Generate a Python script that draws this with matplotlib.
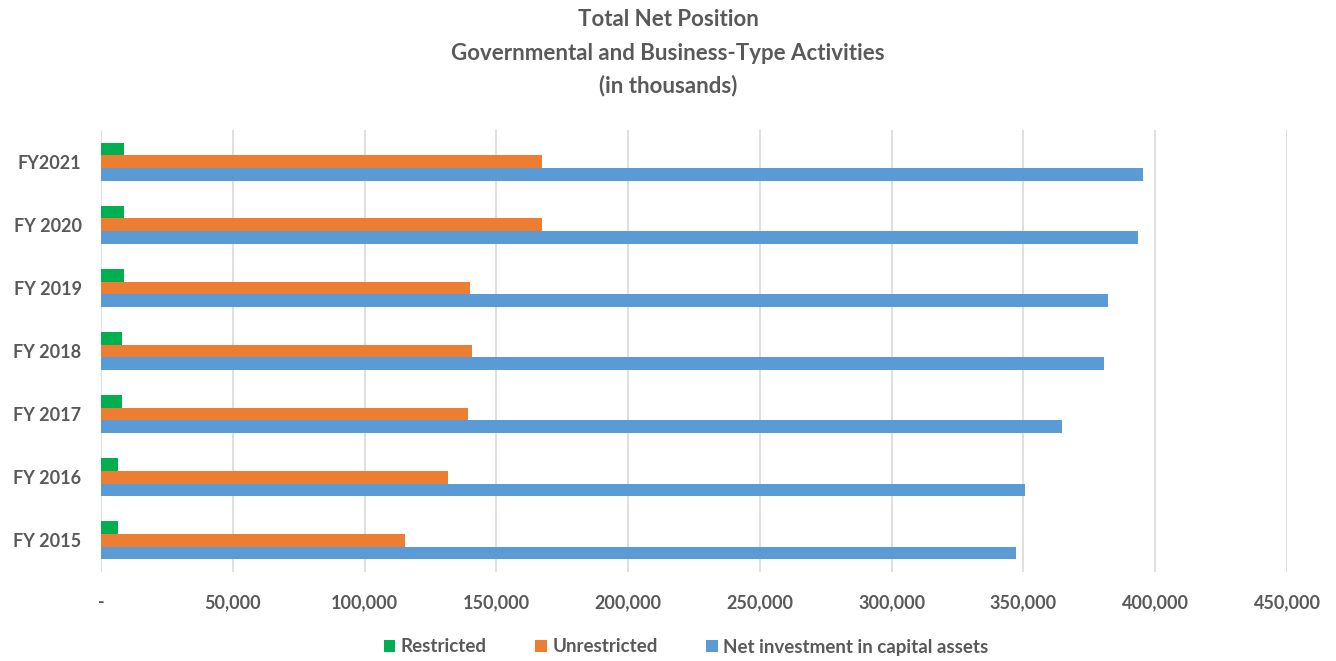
import matplotlib
matplotlib.use("Agg")
import matplotlib.pyplot as plt
import numpy as np

categories = ["FY 2015", "FY 2016", "FY 2017", "FY 2018", "FY 2019", "FY 2020", "FY2021"]
restricted = [6600, 6600, 8100, 8100, 8700, 8700, 8700]
unrestricted = [115400, 131600, 139300, 140600, 140000, 167200, 167200]
net_investment = [347300, 350700, 364700, 380600, 382100, 393300, 395400]
x_ticks = [0, 50000, 100000, 150000, 200000, 250000, 300000, 350000, 400000, 450000]
x_tick_labels = ["-", "50,000", "100,000", "150,000", "200,000", "250,000",
                 "300,000", "350,000", "400,000", "450,000"]
series_names = ["Restricted", "Unrestricted", "Net investment in capital assets"]
colors = ["#00B050", "#ED7D31", "#5B9BD5"]

plt.rcParams['font.family'] = ['Lato', 'DejaVu Sans']
txt = "#595959"

fig = plt.figure(figsize=(13.36, 6.61), dpi=100)
ax = fig.add_axes([101/1336, 1-572/661, (1287-101)/1336, (572-130)/661])

y = np.arange(len(categories))
h = 0.2
ax.barh(y + h, restricted, height=h, color=colors[0], label=series_names[0], zorder=3)
ax.barh(y, unrestricted, height=h, color=colors[1], label=series_names[1], zorder=3)
ax.barh(y - h, net_investment, height=h, color=colors[2], label=series_names[2], zorder=3)

ax.set_xlim(0, 450000)
ax.set_ylim(-0.5, len(categories) - 0.5)
ax.set_xticks(x_ticks)
ax.set_xticklabels(x_tick_labels)
ax.set_yticks(y)
ax.set_yticklabels(categories)
ax.grid(axis='x', color='#D9D9D9', linewidth=1.2, zorder=0)
for s in ax.spines.values():
    s.set_visible(False)
ax.tick_params(axis='both', length=0, labelcolor=txt, labelsize=13)
ax.tick_params(axis='x', pad=16)
ax.tick_params(axis='y', pad=14)
for lab in ax.get_xticklabels() + ax.get_yticklabels():
    lab.set_fontweight('bold')

fig.text(0.5, 1-19/661, "Total Net Position", ha='center', va='center',
         fontsize=16, fontweight='bold', color=txt)
fig.text(0.5, 1-53/661, "Governmental and Business-Type Activities", ha='center', va='center',
         fontsize=16, fontweight='bold', color=txt)
fig.text(0.5, 1-86/661, "(in thousands)", ha='center', va='center',
         fontsize=16, fontweight='bold', color=txt)

leg = fig.legend(loc='center', bbox_to_anchor=(686/1336, 1-647/661), ncol=3, frameon=False,
                 fontsize=13.5, handlelength=0.6, handleheight=0.6, handletextpad=0.3,
                 columnspacing=2.6)
for t in leg.get_texts():
    t.set_color(txt)
    t.set_fontweight('bold')

fig.savefig("out.png", dpi=100)
